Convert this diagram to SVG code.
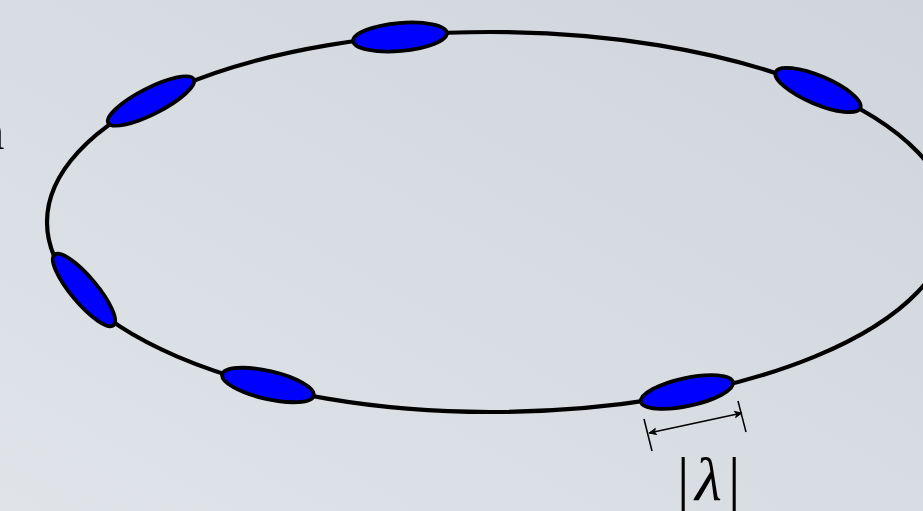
<svg xmlns="http://www.w3.org/2000/svg" width="923" height="511" viewBox="0 0 923 511">
  <defs>
    <linearGradient id="bg" x1="0" y1="1" x2="1" y2="0">
      <stop offset="0" stop-color="#e0e4e9"/>
      <stop offset="1" stop-color="#cfd5db"/>
    </linearGradient>
    <marker id="ah" viewBox="0 0 10 10" refX="9" refY="5" markerWidth="9" markerHeight="9" orient="auto-start-reverse" markerUnits="userSpaceOnUse">
      <path d="M1,1.5 L9,5 L1,8.5 L3,5 Z" fill="#000" stroke="#000" stroke-width="1"/>
    </marker>
    <style>
      .ring { fill: none; stroke: #000; stroke-width: 4.2; }
      .bunch { fill: #0000ff; stroke: #000; stroke-width: 3.8; }
      .tick { stroke: #000; stroke-width: 1.5; fill: none; }
      .dim { stroke: #000; stroke-width: 1.5; fill: none; }
      .lbl { font-family: "Liberation Serif", "Times New Roman", serif; fill: #000; }
    </style>
  </defs>
  <rect x="0" y="0" width="923" height="511" fill="url(#bg)"/>

  <text class="lbl" x="-22" y="149" font-size="53">n</text>

  <g id="connectors">
    <path id="ring" class="ring" d="M490,32 A443,190 0 0 0 490,412 A460,190 0 0 0 490,32 Z"/>
    <line class="tick" x1="644" y1="419" x2="652" y2="451"/>
    <line class="tick" x1="738" y1="401" x2="746" y2="432"/>
    <line class="dim" x1="649" y1="433" x2="742" y2="413" marker-start="url(#ah)" marker-end="url(#ah)"/>
  </g>

  <g id="bunch-top"><ellipse class="bunch" cx="400" cy="37" rx="47" ry="14" transform="rotate(-5 400 37)"/></g>
  <g id="bunch-upper-left"><ellipse class="bunch" cx="151" cy="101" rx="48" ry="13" transform="rotate(-27 151 101)"/></g>
  <g id="bunch-right"><ellipse class="bunch" cx="818" cy="90" rx="46" ry="14" transform="rotate(23 818 90)"/></g>
  <g id="bunch-left"><ellipse class="bunch" cx="84" cy="290" rx="46" ry="13" transform="rotate(50 84 290)"/></g>
  <g id="bunch-lower-left"><ellipse class="bunch" cx="268" cy="385" rx="47" ry="14" transform="rotate(13 268 385)"/></g>
  <g id="bunch-bottom-right"><ellipse class="bunch" cx="687" cy="392" rx="47" ry="14" transform="rotate(-12 687 392)"/></g>

  <g id="label-lambda">
    <text class="lbl" font-size="62" y="500"><tspan x="677">|</tspan><tspan x="695" font-style="italic">λ</tspan><tspan x="728">|</tspan></text>
  </g>
</svg>
